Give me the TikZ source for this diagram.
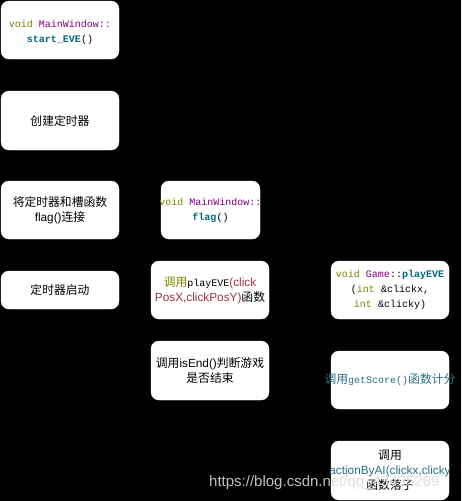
\documentclass[tikz,border=0pt]{standalone}
\usepackage{fontspec}
\setmainfont{Noto Sans CJK SC}
\setmonofont{Liberation Mono}
\newfontfamily\lat{Liberation Sans}
\definecolor{kwolive}{HTML}{808000}
\definecolor{kwpurple}{HTML}{800080}
\definecolor{kwteal}{HTML}{00677C}
\definecolor{kwred}{HTML}{A03040}
\definecolor{kwblue}{HTML}{2B6E88}
\definecolor{wmgray}{HTML}{DCDCDC}
\begin{document}
\begin{tikzpicture}[x=1pt,y=-1pt,
  box/.style={draw=white,fill=white,rounded corners=8pt,minimum width=118pt,minimum height=58pt,inner sep=0pt},
  txt/.style={align=center,inner sep=0pt,font=\fontsize{11.8}{15}\selectfont,text=black},
  code/.style={align=center,inner sep=0pt,font=\fontsize{10}{15}\ttfamily,text=black}]
\fill[black] (0,0) rectangle (461,501);
\useasboundingbox (0,0) rectangle (461,501);
% boxes
\node[box] (b1) at (60,30) {};
\node[box,minimum height=59pt] (b2) at (60,120.5) {};
\node[box] (b3) at (60,210) {};
\node[box,minimum height=38pt] (b4) at (60,290) {};
\node[box,minimum width=99pt] (b5) at (210.5,210) {};
\node[box] (b6) at (210,290) {};
\node[box,minimum height=59pt] (b7) at (210,370.5) {};
\node[box] (b8) at (390,290) {};
\node[box] (b9) at (390,380) {};
\node[box,minimum height=59pt] (b10) at (390,470.5) {};
% texts
\node[code] (t1) at (60,32) {\textcolor{kwolive}{void} \textcolor{kwpurple}{MainWindow::}\\\textcolor{kwteal}{\bfseries start\_EVE}()};
\node[txt] (t2) at (b2) {创建定时器};
\node[txt] (t3) at (b3) {将定时器和槽函数\\{\lat flag()}连接};
\node[txt] (t4) at (b4) {定时器启动};
\node[code] (t5) at (b5) {\textcolor{kwolive}{void} \textcolor{kwpurple}{MainWindow::}\\\textcolor{kwteal}{\bfseries flag}()};
\node[txt] (t6) at (b6) {\textcolor{kwolive}{调用}{\ttfamily\fontsize{10}{15}\selectfont playEVE}\textcolor{kwred}{\lat(click}\\\textcolor{kwred}{\lat PosX,clickPosY)}函数};
\node[txt] (t7) at (b7) {调用{\lat isEnd()}判断游戏\\是否结束};
\node[code] (t8) at (b8) {\textcolor{kwolive}{void} \textcolor{kwpurple}{Game}::\textcolor{kwteal}{\bfseries playEVE}\\(\textcolor{kwolive}{int} \&clickx,\\\textcolor{kwolive}{int} \&clicky)};
\node[txt] (t9) at (b9) {\textcolor{kwblue}{调用{\ttfamily\fontsize{10}{15}\selectfont getScore()}函数计分}};
\node[txt] (t10) at (b10) {调用\\\textcolor{kwblue}{\lat actionByAI(clickx,clicky}\\函数落子};
% watermark
\node[anchor=west,inner sep=0pt,text=wmgray,text opacity=0.87,font=\lat\fontsize{15}{17}\selectfont] (wm) at (209,483) {https://blog.csdn.net/qq\_43495269};
\end{tikzpicture}
\end{document}
